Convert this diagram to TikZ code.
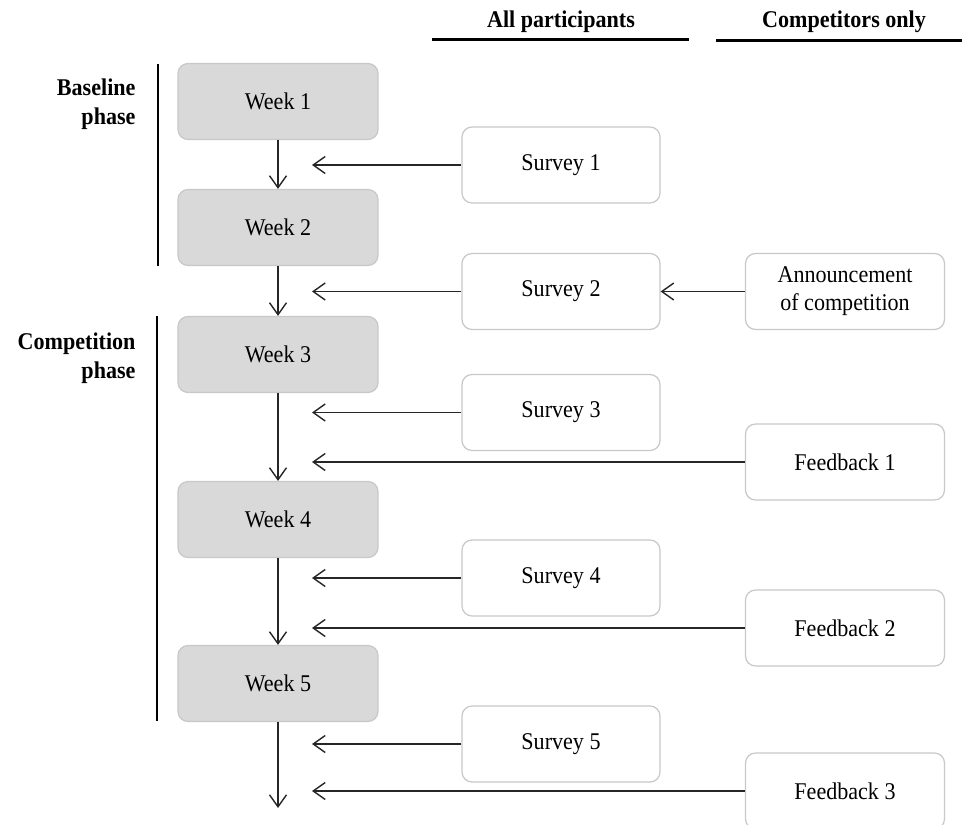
\documentclass[tikz,border=0pt]{standalone}
\usepackage{fontspec}
\setmainfont[FakeStretch=0.92]{Liberation Serif}
\usetikzlibrary{arrows.meta}
\definecolor{boxline}{HTML}{C8C8C8}
\definecolor{weekfill}{HTML}{D9D9D9}
\begin{document}
\begin{tikzpicture}[x=1pt,y=-1pt,
  basebox/.style={draw=boxline,line width=1.2pt,rounded corners=10pt,minimum height=76pt,inner sep=2pt,align=center,font=\fontsize{24}{28}\selectfont},
  weekbox/.style={basebox,fill=weekfill,minimum width=200pt},
  survbox/.style={basebox,fill=white,minimum width=198pt},
  compbox/.style={basebox,fill=white,minimum width=199pt},
  conn/.style={line width=1.4pt,draw=black!85,-{Straight Barb[length=12pt,width=17pt,line width=1.4pt]}},
  headtext/.style={font=\fontsize{24}{29}\selectfont\bfseries},
  phaseline/.style={line width=2.6pt},
  headline/.style={line width=3pt}]
\useasboundingbox (0,0) rectangle (962,825);
\clip (0,0) rectangle (962,825);

% headers
\node[headtext] (hall) at (561,22) {All participants};
\node[headtext] (hcomp) at (844,22) {Competitors only};
\draw[headline] (432,39) -- (689,39);
\draw[headline] (716,40) -- (962,40);

% phases
\node[headtext,align=right,anchor=east] (pbase) at (139,104) {Baseline\\phase};
\node[headtext,align=right,anchor=east] (pcomp) at (139,358) {Competition\\phase};
\draw[phaseline] (158,64) -- (158,266);
\draw[phaseline] (157,316) -- (157,721);

% weeks
\node[weekbox] (w1) at (278,101.5) {Week 1};
\node[weekbox] (w2) at (278,227.5) {Week 2};
\node[weekbox] (w3) at (278,354.5) {Week 3};
\node[weekbox] (w4) at (278,519.5) {Week 4};
\node[weekbox] (w5) at (278,683.5) {Week 5};
\coordinate (wend) at (278,808);

% surveys
\node[survbox] (s1) at (561,165) {Survey 1};
\node[survbox] (s2) at (561,291.5) {Survey 2};
\node[survbox] (s3) at (561,412.5) {Survey 3};
\node[survbox] (s4) at (561,578) {Survey 4};
\node[survbox] (s5) at (561,744) {Survey 5};

% competitors
\node[compbox] (ann) at (845,291.5) {Announcement\\of competition};
\node[compbox] (f1) at (845,462) {Feedback 1};
\node[compbox] (f2) at (845,628) {Feedback 2};
\node[compbox] (f3) at (845,791) {Feedback 3};

% vertical flow
\draw[conn] (w1) -- (w2);
\draw[conn] (w2) -- (w3);
\draw[conn] (w3) -- (w4);
\draw[conn] (w4) -- (w5);
\draw[conn] (w5) -- (wend);

% horizontal targets
\coordinate (t1) at (312,165);
\coordinate (t2) at (312,291.5);
\coordinate (t3) at (312,412.5);
\coordinate (t4) at (312,462);
\coordinate (t5) at (312,578);
\coordinate (t6) at (312,628);
\coordinate (t7) at (312,744);
\coordinate (t8) at (312,791);

\draw[conn] (s1.west) -- (t1);
\draw[conn] (s2.west) -- (t2);
\draw[conn] (s3.west) -- (t3);
\draw[conn] (f1.west) -- (t4);
\draw[conn] (s4.west) -- (t5);
\draw[conn] (f2.west) -- (t6);
\draw[conn] (s5.west) -- (t7);
\draw[conn] (f3.west) -- (t8);
\draw[conn] (ann.west) -- (s2.east);
\end{tikzpicture}
\end{document}
